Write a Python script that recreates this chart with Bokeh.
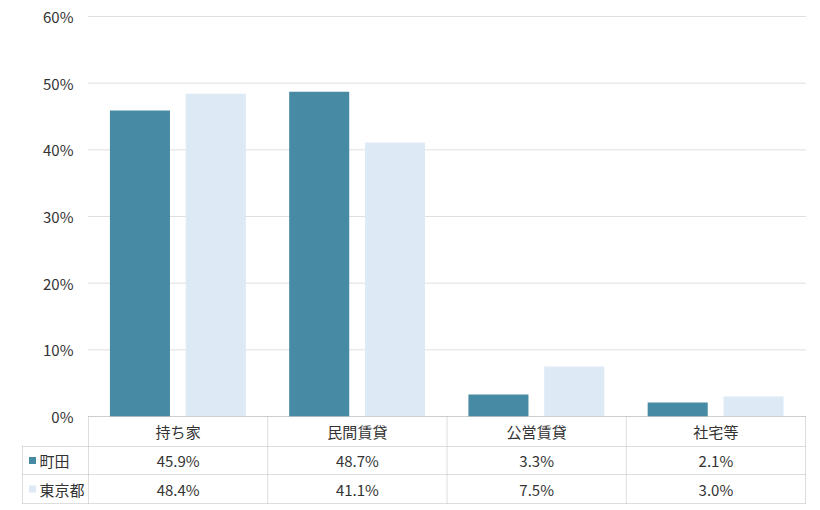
from bokeh.plotting import figure
from bokeh.models import Range1d, PrintfTickFormatter, FixedTicker
from bokeh.core.properties import value
from bokeh.embed import file_html
from bokeh.resources import INLINE

categories = ["持ち家", "民間賃貸", "公営賃貸", "社宅等"]
series_names = ["町田", "東京都"]
machida = [45.9, 48.7, 3.3, 2.1]
tokyo = [48.4, 41.1, 7.5, 3.0]
y_ticks = [0, 10, 20, 30, 40, 50, 60]

COL_A = "#468ba3"
COL_B = "#dde9f5"
FONT_NAME = "Noto Sans CJK JP"
FONT = value(FONT_NAME)
TXT = "#333333"
LC = "#bdbdbd"
GC = "#bfbfbf"

n = len(categories)
pxu = 400 / 60.0          # pixels per percent unit
cw = 717 / n              # pixels per category
row_h = [30, 28, 29]      # table row heights in px
lines_y = [0.0]
for h in row_h:
    lines_y.append(lines_y[-1] - h / pxu)
left = -66 / cw

p = figure(width=809, height=509,
           x_range=Range1d(-67 / cw, n + 1 / cw),
           y_range=Range1d(lines_y[-1] - 3 / pxu, 60 + 1 / pxu),
           min_border_left=21, min_border_right=3, min_border_top=15, min_border_bottom=3,
           output_backend="svg", toolbar_location=None)
p.xaxis.visible = False
p.grid.visible = False
p.outline_line_color = None
p.yaxis.ticker = FixedTicker(ticks=y_ticks)
p.yaxis.formatter = PrintfTickFormatter(format="%d%%")
p.yaxis.axis_line_color = None
p.yaxis.major_tick_line_color = None
p.yaxis.minor_tick_line_color = None
p.yaxis.major_tick_out = 0
p.yaxis.major_tick_in = 0
p.yaxis.major_label_standoff = -52
p.yaxis.major_label_text_font = FONT_NAME
p.yaxis.major_label_text_font_size = "15px"
p.yaxis.major_label_text_color = TXT

# horizontal grid lines over the category area
p.segment(x0=[0] * len(y_ticks), y0=y_ticks, x1=[n] * len(y_ticks), y1=y_ticks,
          line_color=GC, line_dash="1 1")

cx = [i + 0.5 for i in range(n)]
p.vbar(x=[c - 0.213 for c in cx], top=machida, width=0.335, fill_color=COL_A, line_color=None)
p.vbar(x=[c + 0.21 for c in cx], top=tokyo, width=0.335, fill_color=COL_B, line_color=None)

# data table lines
x0s = [0, left, left, left]
p.segment(x0=x0s, y0=lines_y, x1=[n] * 4, y1=lines_y, line_color=LC, line_dash="1 1")
vx = [left] + list(range(n + 1))
vy0 = [lines_y[1]] + [lines_y[0]] * (n + 1)
p.segment(x0=vx, y0=vy0, x1=vx, y1=[lines_y[-1]] * len(vx), line_color=LC, line_dash="1 1")

hc = [(lines_y[i] + lines_y[i + 1]) / 2 for i in range(3)]
p.text(x=cx, y=[hc[0]] * n, text=categories, text_align="center", text_baseline="middle",
       text_font=FONT, text_font_size="15px", text_color=TXT)
p.text(x=cx, y=[hc[1]] * n, text=[f"{v:.1f}%" for v in machida], text_align="center",
       text_baseline="middle", text_font=FONT, text_font_size="15px", text_color=TXT)
p.text(x=cx, y=[hc[2]] * n, text=[f"{v:.1f}%" for v in tokyo], text_align="center",
       text_baseline="middle", text_font=FONT, text_font_size="15px", text_color=TXT)

# legend keys in the table
p.scatter(x=[left + 10 / cw] * 2, y=hc[1:], marker="square", size=7,
          fill_color=[COL_A, COL_B], line_color=None)
p.text(x=[left + 17 / cw] * 2, y=hc[1:], text=series_names, text_align="left",
       text_baseline="middle", text_font=FONT, text_font_size="15px", text_color=TXT)

open("out.html", "w").write(file_html(p, INLINE))
